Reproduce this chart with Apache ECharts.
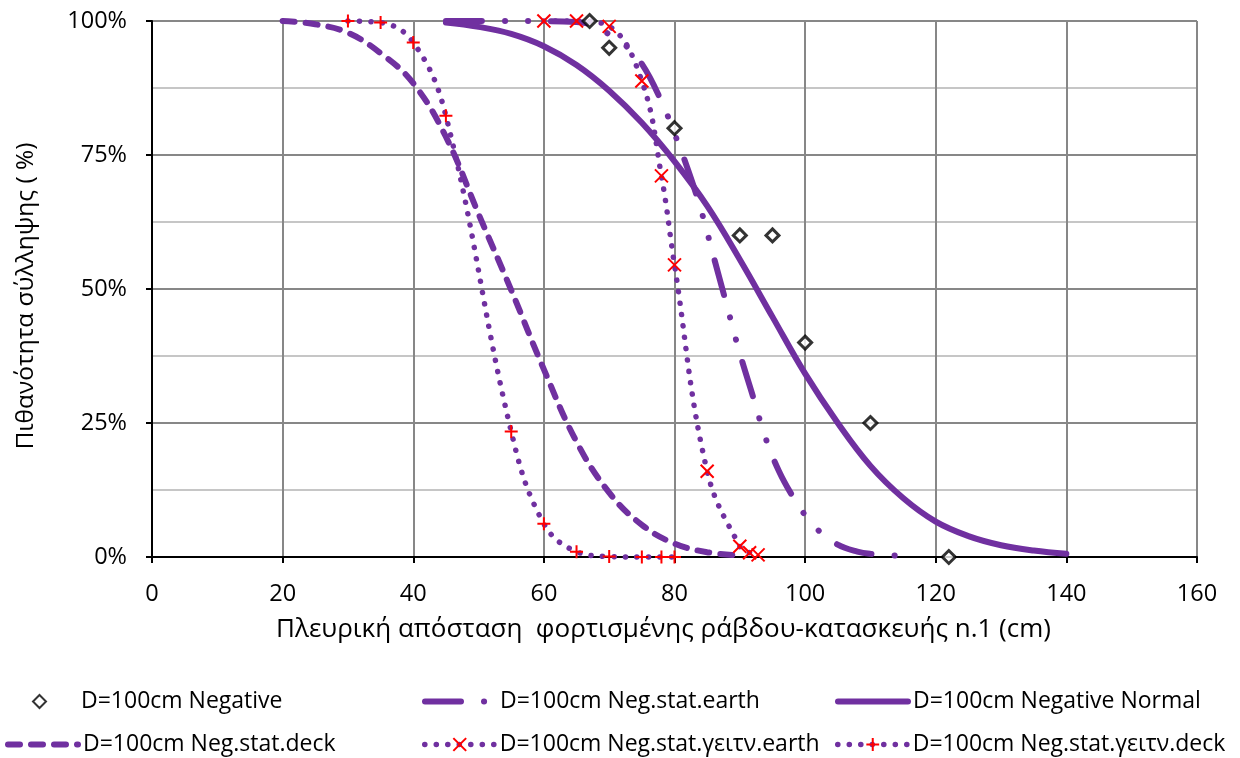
<!DOCTYPE html>
<html>
<head>
<meta charset="utf-8">
<script src="https://cdn.jsdelivr.net/npm/echarts@6/dist/echarts.min.js"></script>
<style>
html,body{margin:0;padding:0;background:#fff;}
#chart{width:1240px;height:758px;}
</style>
</head>
<body>
<div id="chart"></div>
<script>
// ---- data ----
const xTicks = [0, 20, 40, 60, 80, 100, 120, 140, 160];
const yTickLabels = ['0%', '25%', '50%', '75%', '100%'];

const seriesNames = [
  'D=100cm Negative',
  'D=100cm Neg.stat.earth',
  'D=100cm Negative Normal',
  'D=100cm Neg.stat.deck',
  'D=100cm Neg.stat.γειτν.earth',
  'D=100cm Neg.stat.γειτν.deck'
];

// D=100cm Negative (measured points)
const negX = [67, 70, 80, 90, 95, 100, 110, 122];
const negY = [100, 95, 80, 60, 60, 40, 25, 0];

// D=100cm Neg.stat.earth
const earthX = [45, 55, 65, 68, 70, 72, 75, 78, 80, 82, 84, 86, 88, 90, 92, 94, 96, 98, 100, 102, 105, 108, 110, 115];
const earthY = [100, 100, 99.8, 99, 97.5, 96, 92, 85, 79, 72.5, 65, 56, 47, 38, 30, 22, 16, 11.5, 7.8, 5, 2.3, 1, 0.6, 0.2];

// D=100cm Negative Normal
const normalX = [45, 50, 55, 60, 65, 70, 75, 80, 85, 90, 95, 100, 105, 110, 115, 120, 125, 130, 135, 140];
const normalY = [99.7, 98.9, 97.6, 95.3, 91.8, 87, 81, 73.8, 65.5, 55.5, 44.8, 34.2, 25, 17, 11, 6.6, 3.9, 2.2, 1.2, 0.6];

// D=100cm Neg.stat.deck
const deckX = [20, 25, 30, 35, 40, 45, 50, 55, 60, 65, 70, 75, 80, 85, 90];
const deckY = [100, 99.4, 97.8, 94, 88.4, 78.4, 64, 49.8, 35, 21.5, 12, 6, 2.5, 0.9, 0.3];

// D=100cm Neg.stat.γειτν.earth
const gEarthX = [60, 65, 70, 75, 78, 80, 85, 90, 91.5, 92.8];
const gEarthY = [100, 100, 99, 88.8, 71.1, 54.5, 16, 2, 0.8, 0.4];

// D=100cm Neg.stat.γειτν.deck
const gDeckX = [30, 35, 40, 45, 55, 60, 65, 70, 75, 78, 80];
const gDeckY = [100, 99.7, 96, 82.3, 23.4, 6.2, 1, 0.1, 0, 0, 0];

// ---- styling ----
const PURPLE = '#7030A0';
const RED = '#FF0000';
const FONT = 'Open Sans';
const pairs = (xs, ys) => xs.map((x, i) => [x, ys[i]]);

const crossPath = 'path://M0,0L10,10M10,0L0,10';
const plusPath = 'path://M5,0L5,10M0,5L10,5';

const W_SOLID = 6, W_DOT = 5.5;
const DASH_EARTH = [36, 23, 0.1, 23, 0.1, 23];
const DASH_DECK = [12, 11];
const DASH_DOT = [0.1, 11.4];

const chart = echarts.init(document.getElementById('chart'), null, {renderer: 'canvas'});

function legendAt(name, left, top, extra) {
  return Object.assign({
    data: [name],
    left: left, top: top,
    orient: 'horizontal',
    padding: 0,
    itemWidth: 70,
    itemHeight: 16,
    selectedMode: false,
    textStyle: {fontFamily: FONT, fontSize: 23, color: '#000'}
  }, extra || {});
}

const option = {
  backgroundColor: '#fff',
  animation: false,
  textStyle: {fontFamily: FONT},
  grid: {left: 152, right: 43, top: 21, bottom: 201, containLabel: false},
  legend: [
    legendAt(seriesNames[0], 32, 690, {itemWidth: 13, itemHeight: 13,
      textStyle: {fontFamily: FONT, fontSize: 23, color: '#000', padding: [0, 0, 0, 30]}}),
    legendAt(seriesNames[1], 422, 690, {itemStyle: {opacity: 0},
      lineStyle: {width: W_SOLID, type: DASH_EARTH, cap: 'round', color: PURPLE}}),
    legendAt(seriesNames[2], 835, 690, {itemStyle: {opacity: 0},
      lineStyle: {width: W_SOLID, type: 'solid', cap: 'round', color: PURPLE}}),
    legendAt(seriesNames[3], 5, 733, {itemStyle: {opacity: 0},
      lineStyle: {width: W_SOLID, type: DASH_DECK, cap: 'round', color: PURPLE}}),
    legendAt(seriesNames[4], 422, 733, {
      lineStyle: {width: W_DOT, type: DASH_DOT, cap: 'round', color: PURPLE}}),
    legendAt(seriesNames[5], 835, 733, {
      lineStyle: {width: W_DOT, type: DASH_DOT, cap: 'round', color: PURPLE}})
  ],
  xAxis: {
    type: 'value',
    min: xTicks[0], max: xTicks[xTicks.length - 1], interval: 20,
    name: 'Πλευρική απόσταση  φορτισμένης ράβδου-κατασκευής n.1 (cm)',
    nameLocation: 'middle',
    nameGap: 60,
    nameTextStyle: {fontFamily: FONT, fontSize: 26, color: '#000', padding: [0, 22, 0, 0]},
    axisLine: {show: true, onZero: false, lineStyle: {color: '#000', width: 2}},
    axisTick: {show: true, inside: false, length: 6, lineStyle: {color: '#000', width: 2}},
    axisLabel: {margin: 25, fontFamily: FONT, fontSize: 23.5, color: '#000',
      formatter: v => String(xTicks[xTicks.indexOf(v)])},
    splitLine: {show: true, lineStyle: {color: '#878787', width: 2}}
  },
  yAxis: {
    type: 'value',
    min: 0, max: 100, interval: 25,
    name: 'Πιθανότητα σύλληψης ( %)',
    nameLocation: 'middle',
    nameRotate: 90,
    nameGap: 113,
    nameTextStyle: {fontFamily: FONT, fontSize: 24.5, color: '#000', padding: [0, 14, 0, 0]},
    axisLine: {show: true, onZero: false, lineStyle: {color: '#000', width: 2}},
    axisTick: {show: true, inside: false, length: 6, lineStyle: {color: '#000', width: 2}},
    axisLabel: {margin: 25, fontFamily: FONT, fontSize: 23.5, color: '#000',
      formatter: v => yTickLabels[Math.round(v / 25)]},
    splitLine: {show: true, lineStyle: {color: '#878787', width: 2}},
    minorTick: {show: false, splitNumber: 2},
    minorSplitLine: {show: true, lineStyle: {color: '#c6c6c6', width: 2}}
  },
  series: [
    {
      name: seriesNames[2], type: 'line', data: pairs(normalX, normalY),
      smooth: 0.4, symbol: 'none', clip: false, z: 2,
      lineStyle: {color: PURPLE, width: W_SOLID, type: 'solid', cap: 'round'},
      itemStyle: {color: PURPLE}
    },
    {
      name: seriesNames[1], type: 'line', data: pairs(earthX, earthY),
      smooth: 0.4, symbol: 'none', clip: false, z: 2,
      lineStyle: {color: PURPLE, width: W_SOLID, type: DASH_EARTH, cap: 'round'},
      itemStyle: {color: PURPLE}
    },
    {
      name: seriesNames[3], type: 'line', data: pairs(deckX, deckY),
      smooth: 0.4, symbol: 'none', clip: false, z: 2,
      lineStyle: {color: PURPLE, width: W_SOLID, type: DASH_DECK, cap: 'round'},
      itemStyle: {color: PURPLE}
    },
    {
      name: seriesNames[4], type: 'line', data: pairs(gEarthX, gEarthY),
      smooth: 0.4, clip: false, z: 3,
      symbol: crossPath, symbolSize: 13, showSymbol: true,
      lineStyle: {color: PURPLE, width: W_DOT, type: DASH_DOT, cap: 'round'},
      itemStyle: {color: RED, borderColor: RED, borderWidth: 2}
    },
    {
      name: seriesNames[5], type: 'line', data: pairs(gDeckX, gDeckY),
      smooth: 0.4, clip: false, z: 3,
      symbol: plusPath, symbolSize: 13, showSymbol: true,
      lineStyle: {color: PURPLE, width: W_DOT, type: DASH_DOT, cap: 'round'},
      itemStyle: {color: RED, borderColor: RED, borderWidth: 2}
    },
    {
      name: seriesNames[0], type: 'scatter', data: pairs(negX, negY),
      symbol: 'diamond', symbolSize: 13, clip: false, z: 4,
      itemStyle: {color: '#fff', borderColor: '#000', borderWidth: 3}
    }
  ]
};
chart.setOption(option);
</script>
</body>
</html>
